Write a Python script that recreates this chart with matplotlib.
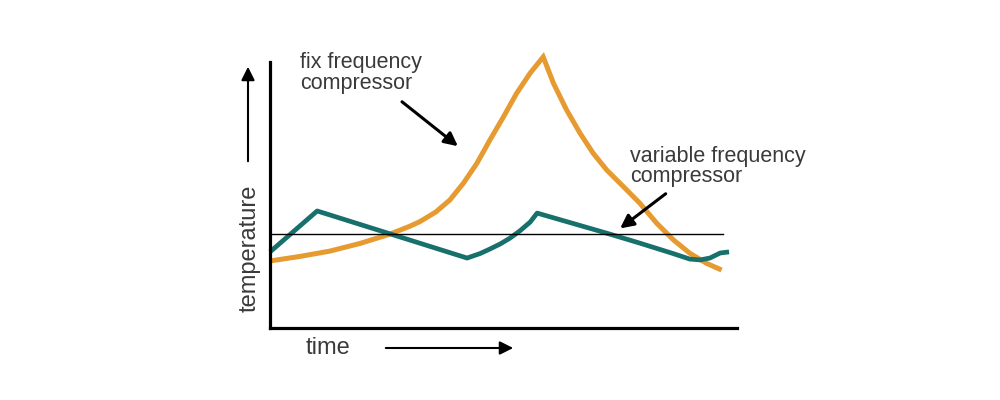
import matplotlib.pyplot as plt

# time / temperature in arbitrary units (0..100)
fix_t = [0, 6.4, 12.8, 19.3, 25.7, 30.0, 32.1, 35.5, 38.5, 41.4, 44.3, 47.1, 50.0, 52.8, 55.7, 58.5,
         60.7, 63.5, 66.4, 69.2, 72.1, 75.7, 79.2, 82.8, 86.4, 89.9, 93.5, 96.7]
fix_temp = [25.2, 26.9, 28.9, 31.8, 35.3, 38.3, 40.0, 43.6, 48.1, 54.4, 61.9, 70.7, 79.4, 88.2, 95.8, 101.9,
            92.0, 82.0, 73.2, 65.7, 59.4, 53.1, 46.9, 39.4, 33.1, 28.1, 24.3, 21.8]

var_t = [0, 10.1, 42.2, 45.0, 47.1, 49.3, 51.4, 53.5, 55.7, 57.2, 64.9, 72.2, 79.2, 86.3, 89.9, 92.1, 94.2, 96.4, 98.3]
var_temp = [28.6, 44.0, 26.3, 28.0, 29.7, 31.6, 33.8, 36.5, 39.8, 43.2, 39.3, 35.6, 31.9, 28.0, 25.9, 25.6, 26.3, 28.2, 28.6]

setpoint = 35.3
setpoint_end = 97

orange = "#E69A30"
teal = "#17706B"
txt = "#3a3a3a"
font = ["Liberation Sans", "DejaVu Sans"]

fig = plt.figure(figsize=(10, 4), dpi=100)
ax = fig.add_axes([0.270, 0.18, 0.467, 0.665])

ax.plot(fix_t, fix_temp, color=orange, lw=3.6, clip_on=False, solid_joinstyle="miter",
        solid_capstyle="butt")
ax.plot(var_t, var_temp, color=teal, lw=3.4, clip_on=False, solid_joinstyle="round",
        solid_capstyle="butt")
ax.plot([0, setpoint_end], [setpoint, setpoint], color="black", lw=1.0)

ax.set_xlim(0, 100)
ax.set_ylim(0, 100)
ax.set_xticks([])
ax.set_yticks([])
for s in ["top", "right"]:
    ax.spines[s].set_visible(False)
for s in ["left", "bottom"]:
    ax.spines[s].set_linewidth(2.3)

ax.text(6.4, 103.6, "fix frequency\ncompressor", ha="left", va="top", fontsize=15.5,
        color=txt, family=font, linespacing=0.95)
ax.text(77.1, 68.6, "variable frequency\ncompressor", ha="left", va="top", fontsize=15.5,
        color=txt, family=font, linespacing=0.95)

ax.annotate("", xy=(40.7, 67.7), xytext=(27.8, 85.7), annotation_clip=False,
            arrowprops=dict(arrowstyle="-|>", color="black", lw=2.2, mutation_scale=20))
ax.annotate("", xy=(74.5, 36.8), xytext=(85.2, 51.1), annotation_clip=False,
            arrowprops=dict(arrowstyle="-|>", color="black", lw=2.2, mutation_scale=20))

# axis labels with arrows
fig.text(0.250, 0.38, "temperature", rotation=90, ha="center", va="center",
         fontsize=17, color=txt, family=font)
fig.text(0.328, 0.13, "time", ha="center", va="center", fontsize=17, color=txt, family=font)
fig.add_artist(plt.Annotation("", xy=(0.248, 0.84), xytext=(0.248, 0.59),
               xycoords="figure fraction", textcoords="figure fraction",
               arrowprops=dict(arrowstyle="-|>", color="black", lw=1.5, mutation_scale=20)))
fig.add_artist(plt.Annotation("", xy=(0.516, 0.13), xytext=(0.383, 0.13),
               xycoords="figure fraction", textcoords="figure fraction",
               arrowprops=dict(arrowstyle="-|>", color="black", lw=1.5, mutation_scale=20)))

fig.savefig("out.png", dpi=100)
